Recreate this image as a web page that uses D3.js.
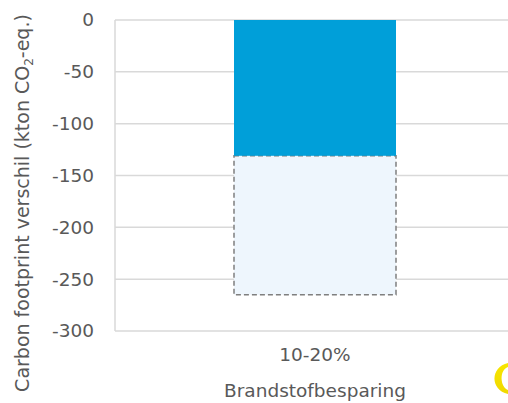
<!DOCTYPE html>
<html><head><meta charset="utf-8">
<script src="https://cdn.jsdelivr.net/npm/d3@7"></script>
<style>
html,body{margin:0;padding:0;background:#fff;}
text{font-family:"DejaVu Sans",sans-serif;fill:#595959;}
</style></head>
<body>
<svg id="chart" width="508" height="403"></svg>
<script>
const categories = ["10-20%"];
const savingLow = [-131];
const savingHigh = [-265];
const yTicks = [0, -50, -100, -150, -200, -250, -300];
const xTitle = "Brandstofbesparing";

(function(){
const svg = d3.select("#chart");
const mL = 115, mR = 515, mT = 20, mB = 331;
const fs = "18.5px";

const y = d3.scaleLinear().domain([0, -300]).range([mT, mB]);
const x = d3.scaleBand().domain(categories).range([mL, mR]).padding(0);

svg.append("g").selectAll("line").data(yTicks).join("line")
  .attr("x1", mL).attr("x2", 508)
  .attr("y1", d => y(d)).attr("y2", d => y(d))
  .attr("stroke", "#d9d9d9").attr("stroke-width", 1.5);

svg.append("line").attr("x1", mL).attr("x2", mL)
  .attr("y1", y(0)).attr("y2", y(-300))
  .attr("stroke", "#d9d9d9").attr("stroke-width", 1.5);

const yAxis = svg.append("g").attr("transform", `translate(${mL},0)`)
  .call(d3.axisLeft(y).tickValues(yTicks).tickSize(0).tickPadding(21).tickFormat(d => String(d)));
yAxis.select(".domain").remove();
yAxis.selectAll("text").style("font-size", fs).attr("fill", "#595959")
  .style("font-family", "'DejaVu Sans',sans-serif");

const barW = x.bandwidth() * 0.405;
const cx = c => x(c) + x.bandwidth() / 2;

svg.append("g").selectAll("rect").data(categories).join("rect")
  .attr("x", (c) => cx(c) - barW / 2)
  .attr("width", barW)
  .attr("y", (c, i) => y(savingLow[i]))
  .attr("height", (c, i) => y(savingHigh[i]) - y(savingLow[i]))
  .attr("fill", "#eef6fd").attr("stroke", "#7f7f7f")
  .attr("stroke-width", 1.5).attr("stroke-dasharray", "5,3");

svg.append("g").selectAll("rect").data(categories).join("rect")
  .attr("x", (c) => cx(c) - barW / 2)
  .attr("width", barW)
  .attr("y", y(0))
  .attr("height", (c, i) => y(savingLow[i]) - y(0))
  .attr("fill", "#009fd9");

const xAxis = svg.append("g").attr("transform", `translate(0,${mB})`)
  .call(d3.axisBottom(x).tickSize(0).tickPadding(17));
xAxis.select(".domain").remove();
xAxis.selectAll("text").style("font-size", fs).attr("fill", "#595959")
  .style("font-family", "'DejaVu Sans',sans-serif");

svg.append("text").attr("x", cx(categories[0])).attr("y", 397)
  .attr("text-anchor", "middle").style("font-size", fs).text(xTitle);

const yt = svg.append("text").attr("transform", "translate(29,203) rotate(-90)")
  .attr("text-anchor", "middle").style("font-size", "19px");
yt.append("tspan").text("Carbon footprint verschil (kton CO");
yt.append("tspan").text("2").style("font-size", "12px").attr("dy", 4);
yt.append("tspan").text("-eq.)").attr("dy", -4);

const defs = svg.append("defs");
const g = defs.append("linearGradient").attr("id", "lg").attr("x1", 0).attr("y1", 0).attr("x2", 0).attr("y2", 1);
g.append("stop").attr("offset", "0").attr("stop-color", "#f7e600");
g.append("stop").attr("offset", "1").attr("stop-color", "#f0d800");
svg.append("path")
  .attr("d", "M508,363 C490,367 490,390 508,394 L508,390 C500,387 499,370 508,367 Z")
  .attr("fill", "url(#lg)");
})();
</script>
</body></html>
